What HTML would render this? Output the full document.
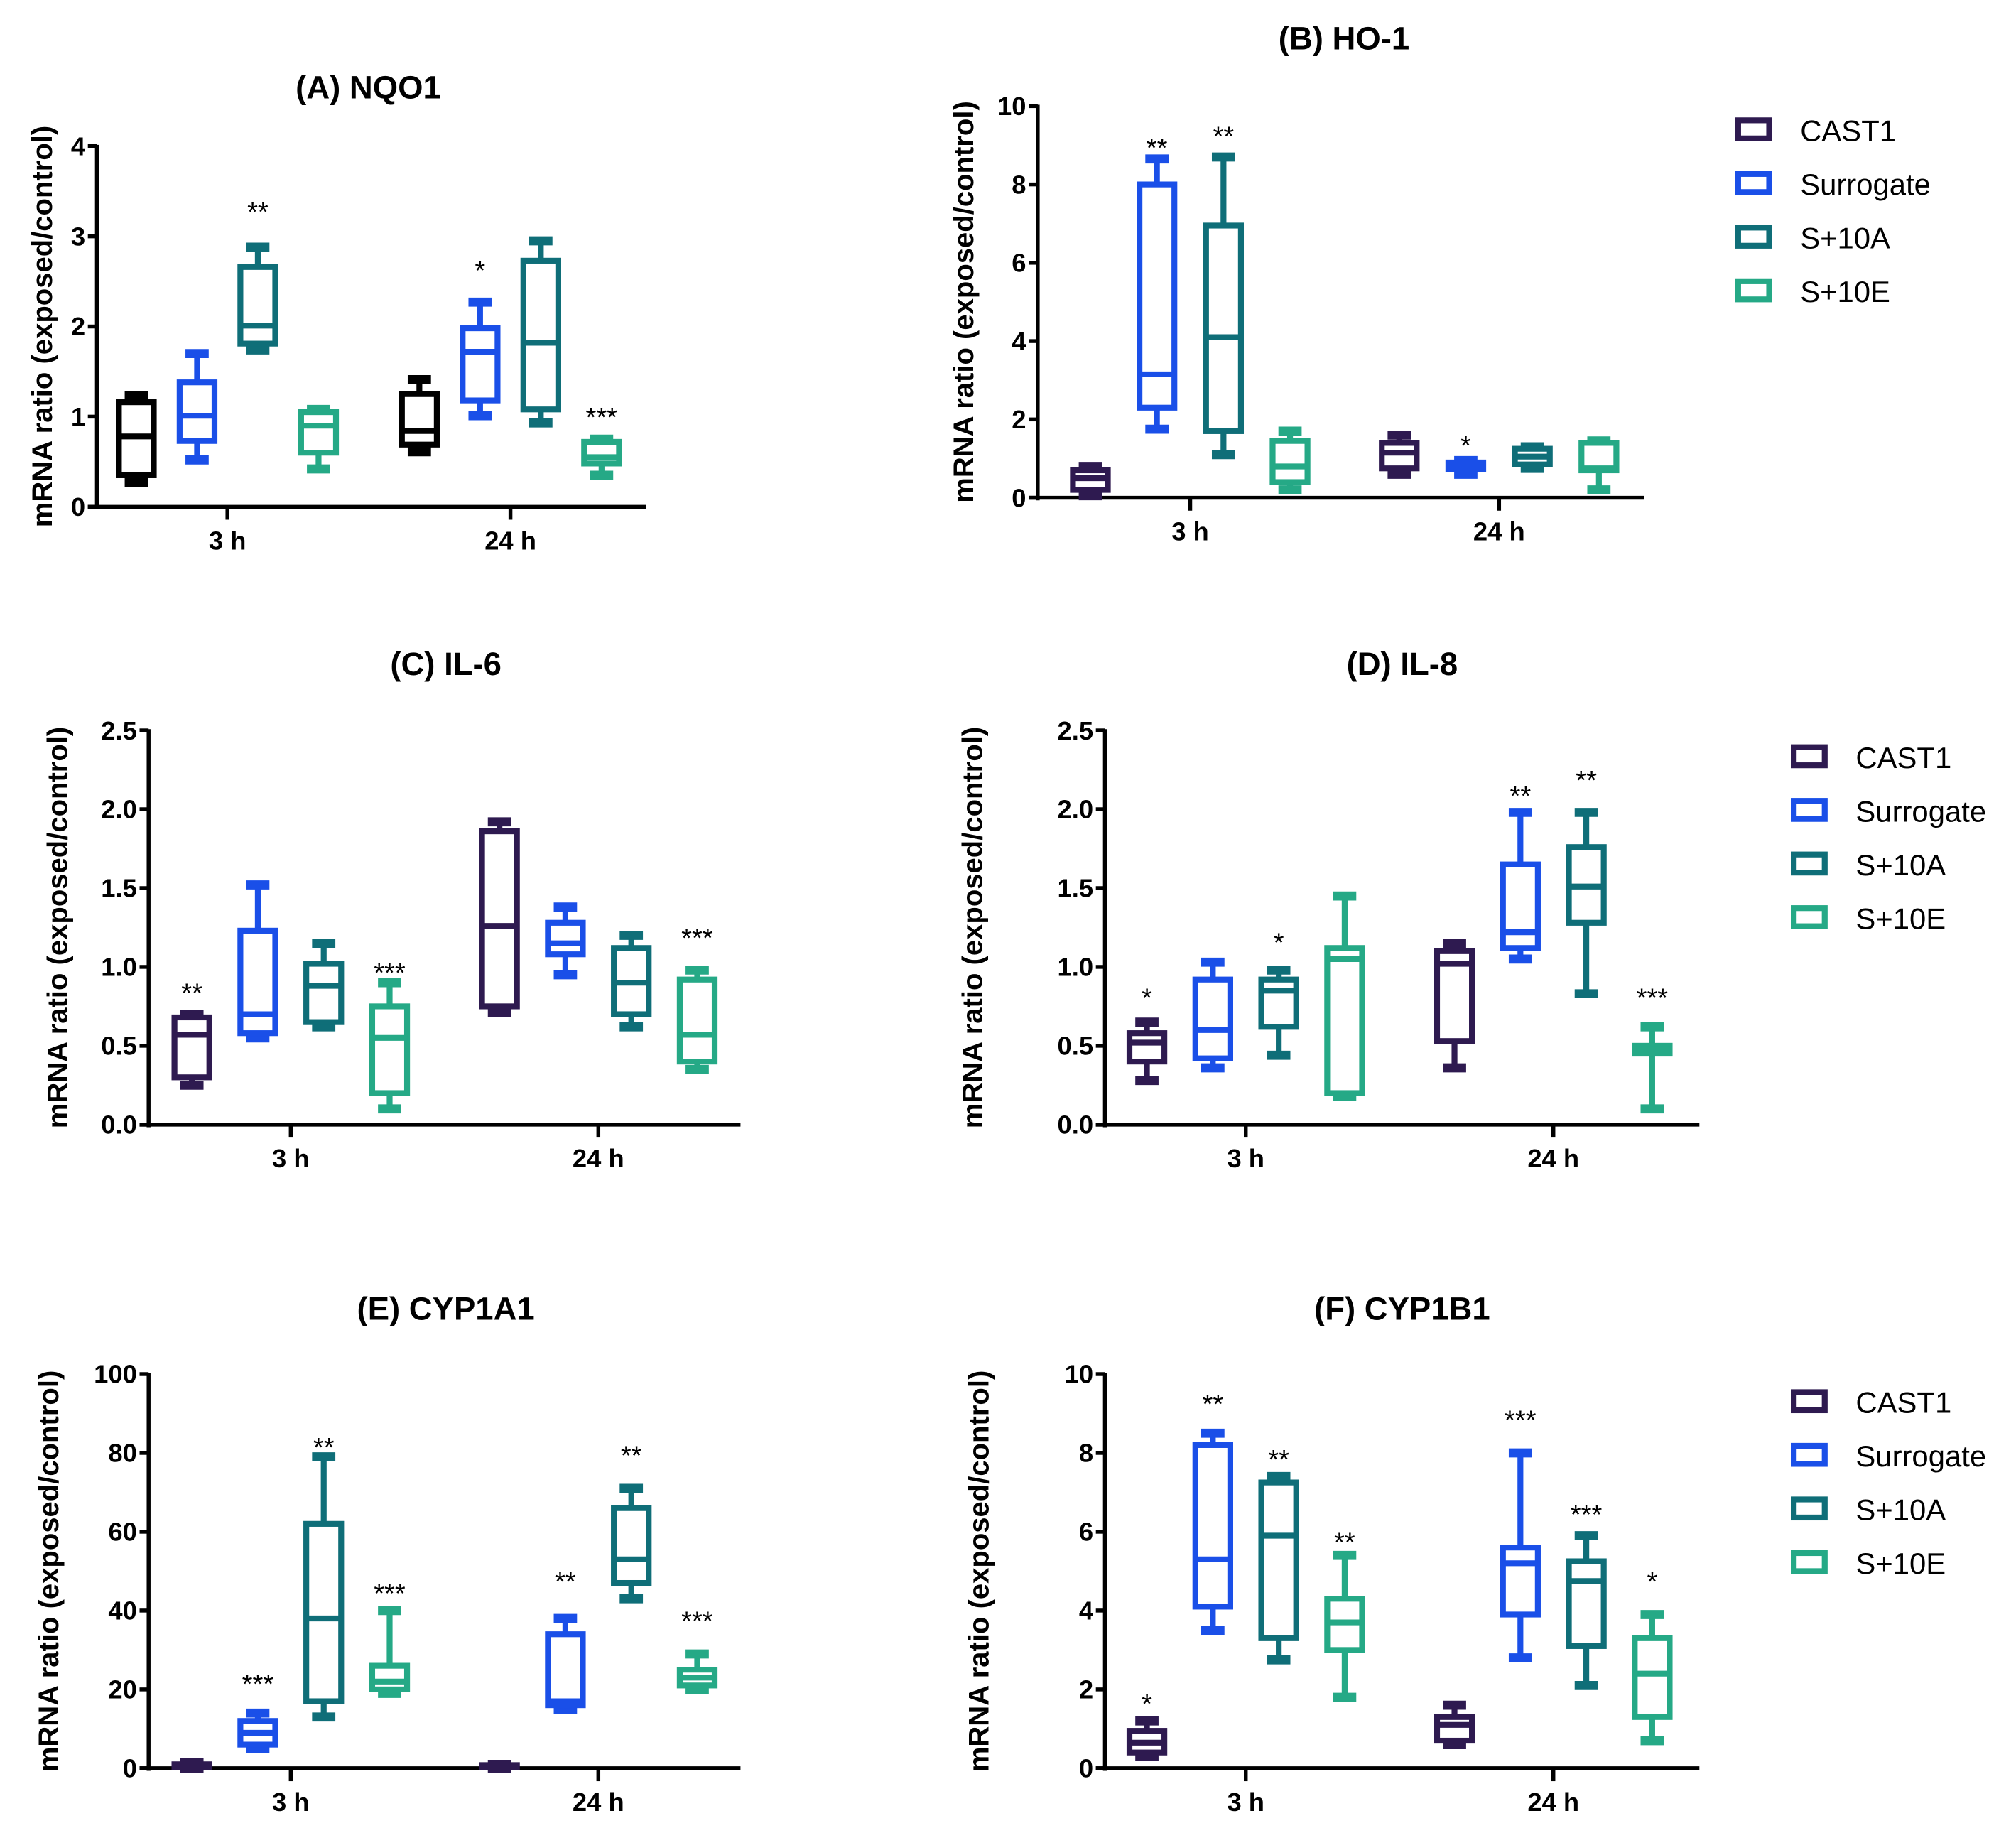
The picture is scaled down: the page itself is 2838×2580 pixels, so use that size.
<!DOCTYPE html>
<html><head><meta charset="utf-8"><style>
html,body{margin:0;padding:0;background:#fff;}
svg{display:block;}
text{font-family:"Liberation Sans",Arial,sans-serif;}
</style></head><body>
<svg id="fig" width="2838" height="2580" viewBox="0 0 1560 1418" xmlns="http://www.w3.org/2000/svg"></svg>
<script>
const groups = ["CAST1","Surrogate","S+10A","S+10E"];
const timepoints = ["3 h","24 h"];
// each box: [whiskerLow, q1, median, q3, whiskerHigh]
const nqo1Values = [[0.27,0.35,0.78,1.16,1.23],[0.52,0.73,1.01,1.38,1.70],[1.74,1.81,2.01,2.66,2.88],[0.42,0.6,0.9,1.05,1.08],
  [0.61,0.69,0.84,1.25,1.41],[1.01,1.18,1.72,1.98,2.27],[0.93,1.08,1.82,2.73,2.95],[0.35,0.48,0.55,0.72,0.75]];
const nqo1Stars = [null,null,["**",3.3],null,null,["*",2.65],null,["***",1.02]];
const nqo1Ticks = [0,1,2,3,4];
const ho1Values = [[0.05,0.2,0.5,0.7,0.8],[1.75,2.3,3.15,8.0,8.65],[1.1,1.7,4.1,6.95,8.7],[0.2,0.4,0.8,1.45,1.7],
  [0.6,0.75,1.15,1.4,1.6],[0.6,0.72,0.85,0.9,0.95],[0.75,0.85,1.05,1.25,1.3],[0.2,0.7,0.75,1.4,1.45]];
const ho1Stars = [null,["**",9.0],["**",9.3],null,null,["*",1.4],null,null];
const ho1Ticks = [0,2,4,6,8,10];
const il6Values = [[0.25,0.3,0.57,0.68,0.7],[0.55,0.58,0.7,1.23,1.52],[0.62,0.65,0.88,1.02,1.15],[0.1,0.2,0.55,0.75,0.9],
  [0.71,0.75,1.26,1.86,1.92],[0.95,1.08,1.15,1.28,1.38],[0.62,0.7,0.9,1.12,1.2],[0.35,0.4,0.57,0.92,0.98]];
const il6Stars = [["**",0.85],null,null,["***",0.98],null,null,null,["***",1.2]];
const il6Ticks = [0,0.5,1.0,1.5,2.0,2.5];
const il8Values = [[0.28,0.4,0.52,0.58,0.65],[0.36,0.42,0.6,0.92,1.03],[0.44,0.62,0.85,0.92,0.98],[0.18,0.2,1.05,1.12,1.45],
  [0.36,0.53,1.02,1.1,1.15],[1.05,1.12,1.22,1.65,1.98],[0.83,1.28,1.51,1.76,1.98],[0.1,0.45,0.48,0.5,0.62]];
const il8Stars = [["*",0.82],null,["*",1.17],null,null,["**",2.1],["**",2.2],["***",0.82]];
const cyp1a1Values = [[0,0.3,0.7,1,1.5],[5,6,9,12,14],[13,17,38,62,79],[19,20,22,26,40],
  [0,0.2,0.5,0.8,1],[15,16,17,34,38],[43,47,53,66,71],[20,21,23,25,29]];
const cyp1a1Stars = [null,["***",22],["**",82],["***",45],null,["**",48],["**",80],["***",38]];
const cyp1a1Ticks = [0,20,40,60,80,100];
const cyp1b1Values = [[0.3,0.4,0.65,0.95,1.2],[3.5,4.1,5.3,8.2,8.5],[2.75,3.3,5.9,7.25,7.4],[1.8,3.0,3.7,4.3,5.4],
  [0.6,0.7,1.1,1.3,1.6],[2.8,3.9,5.2,5.6,8.0],[2.1,3.1,4.75,5.25,5.9],[0.7,1.3,2.4,3.3,3.9]];
const cyp1b1Stars = [["*",1.7],["**",9.3],["**",7.9],["**",5.8],null,["***",8.9],["***",6.5],["*",4.8]];
const cyp1b1Ticks = [0,2,4,6,8,10];

const colors = ["#2e1a50","#1a4fe8","#0f6e78","#25a986"];
const NS = "http://www.w3.org/2000/svg";
const svg = document.getElementById("fig");
function el(tag, attrs, parent){const e=document.createElementNS(NS,tag);for(const k in attrs)e.setAttribute(k,attrs[k]);(parent||svg).appendChild(e);return e;}

function panel(p){
  const g = el("g",{});
  
  
  const ymax = p.ticks[p.ticks.length-1];
  const Y = v => p.y0 - (v/ymax)*(p.y0-p.ytop);
  const t = el("text",{x:p.tx,y:p.ty,"text-anchor":"middle","font-size":25,"font-weight":"bold",fill:"#000"},g);
  t.textContent = p.title;
  
  
  const yt = el("text",{transform:`translate(${p.ytx},${(p.y0+p.ytop)/2}) rotate(-90)`,"text-anchor":"middle","font-size":22,"font-weight":"bold",fill:"#000"},g);
  yt.textContent = "mRNA ratio (exposed/control)";
  
  
  const ya = el("line",{x1:p.ax,x2:p.ax,y1:p.ytop-1,y2:p.y0+2,stroke:"#000","stroke-width":3},g);
  
  
  const xa = el("line",{x1:p.ax-7,x2:p.xend,y1:p.y0,y2:p.y0,stroke:"#000","stroke-width":3},g);
  
  
  p.ticks.forEach(v=>{
    el("line",{x1:p.ax-7,x2:p.ax,y1:Y(v),y2:Y(v),stroke:"#000","stroke-width":3},g);
    const tl = el("text",{x:p.ax-9,y:Y(v)+7,"text-anchor":"end","font-size":20,"font-weight":"bold",fill:"#000"},g);
    tl.textContent = p.tickFmt ? v.toFixed(1) : String(v);
    
    
  });
  timepoints.forEach((tp,i)=>{
    const cx = p.tickX[i];
    el("line",{x1:cx,x2:cx,y1:p.y0,y2:p.y0+10,stroke:"#000","stroke-width":3},g);
    const xl = el("text",{x:cx,y:p.y0+33,"text-anchor":"middle","font-size":20,"font-weight":"bold",fill:"#000"},g);
    xl.textContent = tp;
    
    
  });
  p.values.forEach((b,i)=>{
    const ti = Math.floor(i/4), gi = i%4;
    const cx = p.tickX[ti] + (gi-1.5)*p.sp;
    const col = (p.blackFirst && gi===0) ? "#000" : colors[gi];
    const w = 27;
    const bg = el("g",{stroke:col,"stroke-width":4.5,fill:"none"},g);
    
    
    el("line",{x1:cx,x2:cx,y1:Y(b[4]),y2:Y(b[3])},bg);
    el("line",{x1:cx,x2:cx,y1:Y(b[1]),y2:Y(b[0])},bg);
    el("line",{x1:cx-9,x2:cx+9,y1:Y(b[4]),y2:Y(b[4]),"stroke-width":7},bg);
    el("line",{x1:cx-9,x2:cx+9,y1:Y(b[0]),y2:Y(b[0]),"stroke-width":7},bg);
    el("rect",{x:cx-w/2,y:Y(b[3]),width:w,height:Math.max(1,Y(b[1])-Y(b[3]))},bg);
    el("line",{x1:cx-w/2,x2:cx+w/2,y1:Y(b[2]),y2:Y(b[2])},bg);
    const s = p.stars[i];
    if(s){
      const st = el("text",{x:cx,y:Y(s[1])+9,"text-anchor":"middle","font-size":21,fill:"#000"},g);
      st.textContent = s[0];
      
      
    }
  });
}
function legend(x,y0,name){
  const g = el("g",{});
  
  
  groups.forEach((n,i)=>{
    const y = y0 + i*41.5;
    const r = el("rect",{x:x,y:y-8,width:24,height:14,fill:"none",stroke:colors[i],"stroke-width":4.5},g);
    
    
    const t = el("text",{x:x+48,y:y+8,"font-size":23,fill:"#000"},g);
    t.textContent = n;
    
    
  });
}
panel({name:"panel-a-nqo1",title:"(A) NQO1",tx:285,ty:76,ytx:40,ax:75,y0:392,ytop:113,xend:500,tickX:[176,395],sp:47,ticks:nqo1Ticks,values:nqo1Values,stars:nqo1Stars,blackFirst:true});
panel({name:"panel-b-ho1",title:"(B) HO-1",tx:1040,ty:38,ytx:753,ax:803,y0:385,ytop:82,xend:1272,tickX:[921,1160],sp:51.5,ticks:ho1Ticks,values:ho1Values,stars:ho1Stars});
panel({name:"panel-c-il6",title:"(C) IL-6",tx:345,ty:522,ytx:52,ax:115,y0:870,ytop:565,xend:573,tickX:[225,463],sp:51,ticks:il6Ticks,values:il6Values,stars:il6Stars,tickFmt:true});
panel({name:"panel-d-il8",title:"(D) IL-8",tx:1085,ty:522,ytx:760,ax:855,y0:870,ytop:565,xend:1315,tickX:[964,1202],sp:51,ticks:il6Ticks,values:il8Values,stars:il8Stars,tickFmt:true});
panel({name:"panel-e-cyp1a1",title:"(E) CYP1A1",tx:345,ty:1021,ytx:45,ax:115,y0:1368,ytop:1063,xend:573,tickX:[225,463],sp:51,ticks:cyp1a1Ticks,values:cyp1a1Values,stars:cyp1a1Stars});
panel({name:"panel-f-cyp1b1",title:"(F) CYP1B1",tx:1085,ty:1021,ytx:765,ax:855,y0:1368,ytop:1063,xend:1315,tickX:[964,1202],sp:51,ticks:cyp1b1Ticks,values:cyp1b1Values,stars:cyp1b1Stars});
legend(1345,101,"legend-b");
legend(1388,586,"legend-d");
legend(1388,1085,"legend-f");
</script>
</body></html>
